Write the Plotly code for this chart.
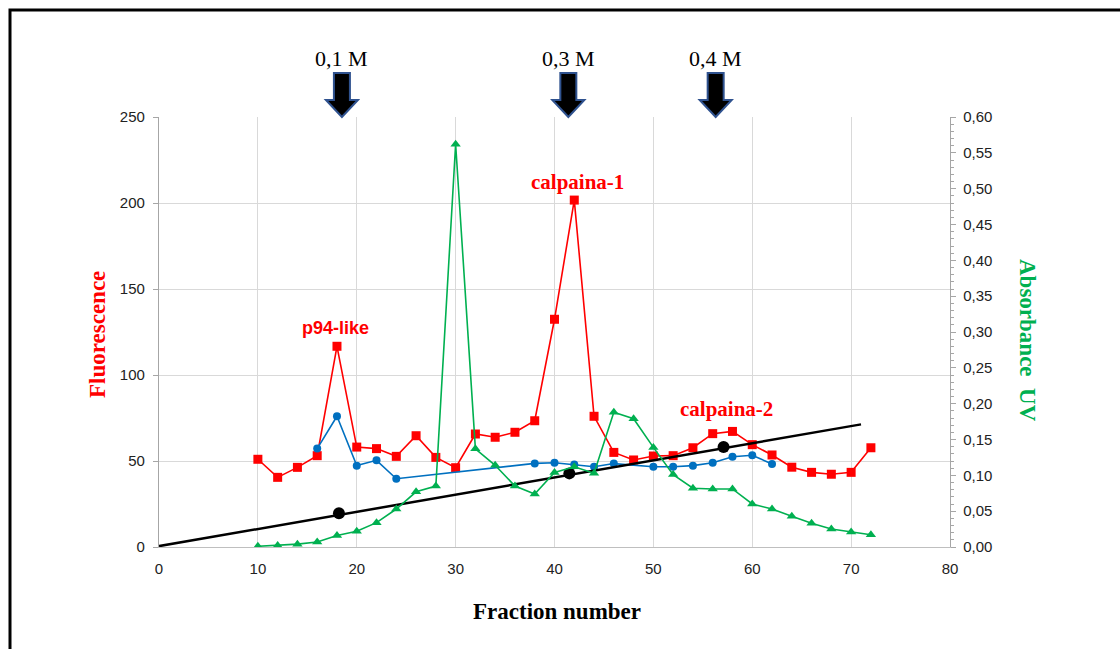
import plotly.graph_objects as go

# ---------------- data ----------------
fraction = [10, 12, 14, 16, 18, 20, 22, 24, 26, 28, 30, 32, 34, 36, 38, 40,
            42, 44, 46, 48, 50, 52, 54, 56, 58, 60, 62, 64, 66, 68, 70, 72]
fluor_red = [51.0, 40.5, 46.3, 53.1, 116.7, 58.1, 57.2, 52.7, 64.7, 52.1, 46.1, 65.7,
             63.8, 66.7, 73.4, 132.4, 201.7, 76.0, 55.0, 50.6, 52.9, 53.1, 57.7, 65.9,
             67.2, 59.5, 53.5, 46.4, 43.4, 42.3, 43.4, 57.7]
blue_x = [16, 18, 20, 22, 24, 38, 40, 42, 44, 46, 50, 52, 54, 56, 58, 60, 62]
fluor_blue = [57.2, 76.0, 47.3, 50.4, 39.7, 48.6, 49.0, 47.9, 46.7, 48.5, 46.7, 46.7,
              47.3, 49.0, 52.5, 53.3, 48.3]
absorb_uv = [0.001, 0.002, 0.004, 0.007, 0.016, 0.022, 0.034, 0.053, 0.077, 0.085, 0.562,
             0.137, 0.114, 0.085, 0.074, 0.104, 0.112, 0.103, 0.188, 0.179, 0.139, 0.101,
             0.082, 0.081, 0.081, 0.060, 0.053, 0.043, 0.033, 0.025, 0.021, 0.017]
gradient_x = [0, 71]
gradient_y = [0.5, 71.3]
salt_dot_x = [18.2, 41.5, 57.1]
salt_dot_y = [19.6, 42.8, 58.1]
salt_arrow_x = [18.5, 41.4, 56.3]
salt_labels = ["0,1 M", "0,3 M", "0,4 M"]
peak_labels = ["p94-like", "calpaina-1", "calpaina-2"]
peak_x = [17.8, 42.3, 57.4]
peak_y = [127.5, 212.0, 80.5]

RED = "#FF0000"
BLUE = "#0070C0"
GREEN = "#00B050"
SERIF = "Liberation Serif, Times New Roman, serif"
SANS = "Liberation Sans, Arial, sans-serif"
TICKFONT = dict(family=SANS, size=15, color="#222222")

fig = go.Figure()
fig.add_trace(go.Scatter(x=fraction, y=fluor_red, mode="lines+markers",
                         line=dict(color=RED, width=1.6),
                         marker=dict(symbol="square", size=9, color=RED),
                         yaxis="y", showlegend=False))
fig.add_trace(go.Scatter(x=blue_x, y=fluor_blue, mode="lines+markers",
                         line=dict(color=BLUE, width=1.6),
                         marker=dict(symbol="circle", size=8, color=BLUE),
                         yaxis="y", showlegend=False))
fig.add_trace(go.Scatter(x=fraction, y=absorb_uv, mode="lines+markers",
                         line=dict(color=GREEN, width=1.6),
                         marker=dict(symbol="triangle-up", size=9, color=GREEN),
                         yaxis="y2", showlegend=False))
fig.add_trace(go.Scatter(x=gradient_x, y=gradient_y, mode="lines",
                         line=dict(color="black", width=2.5),
                         yaxis="y", showlegend=False))
fig.add_trace(go.Scatter(x=salt_dot_x, y=salt_dot_y, mode="markers",
                         marker=dict(symbol="circle", size=12, color="black"),
                         yaxis="y", showlegend=False))

annotations = []
shapes = []
# salt labels and block arrows
head_base = (547 - 100) / 430
shaft_top = (547 - 73) / 430
for xa, lab in zip(salt_arrow_x, salt_labels):
    annotations.append(dict(x=xa, y=(547 - 58) / 430, xref="x", yref="paper",
                            xanchor="center", yanchor="middle",
                            text=lab, showarrow=False,
                            font=dict(family=SERIF, size=22, color="black")))
    path = (f"M -8,{shaft_top} L 8,{shaft_top} L 8,{head_base} L 16,{head_base} "
            f"L 0,1.0 L -16,{head_base} L -8,{head_base} Z")
    shapes.append(dict(type="path", xref="x", yref="paper", xsizemode="pixel",
                       xanchor=xa, path=path, fillcolor="black",
                       line=dict(color="#2F528F", width=2), layer="above"))

# peak labels
fonts = [dict(family=SANS, size=18, color=RED),
         dict(family=SERIF, size=21, color=RED),
         dict(family=SERIF, size=21, color=RED)]
for px_, py_, lab, f in zip(peak_x, peak_y, peak_labels, fonts):
    annotations.append(dict(x=px_, y=py_, xref="x", yref="y", text=f"<b>{lab}</b>",
                            xanchor="center", yanchor="middle",
                            showarrow=False, font=f))

# axis titles
annotations.append(dict(x=(97 - 159) / 791, y=(547 - 335) / 430, xref="paper", yref="paper",
                        xanchor="center", yanchor="middle",
                        text="<b>Fluorescence</b>", textangle=-90, showarrow=False,
                        font=dict(family=SERIF, size=23, color=RED)))
annotations.append(dict(x=(1028 - 159) / 791, y=(547 - 340) / 430, xref="paper", yref="paper",
                        xanchor="center", yanchor="middle",
                        text="<b>Absorbance  UV</b>", textangle=90, showarrow=False,
                        font=dict(family=SERIF, size=23, color=GREEN)))
annotations.append(dict(x=(557 - 159) / 791, y=(547 - 611) / 430, xref="paper", yref="paper",
                        xanchor="center", yanchor="middle",
                        text="<b>Fraction number</b>", showarrow=False,
                        font=dict(family=SERIF, size=23, color="black")))

# outer frame
shapes.append(dict(type="rect", xref="paper", yref="paper",
                   x0=(10 - 159) / 791, x1=1.5, y0=-1.0, y1=(547 - 10) / 430,
                   line=dict(color="black", width=3), fillcolor="rgba(0,0,0,0)",
                   layer="above"))

fig.update_layout(
    width=1120, height=649,
    margin=dict(l=159, r=170, t=117, b=102),
    paper_bgcolor="white", plot_bgcolor="white",
    separators=",.",
    font=dict(family=SANS, size=15, color="#222222"),
    xaxis=dict(range=[0, 80], dtick=10, tick0=0, showgrid=True, gridcolor="#D9D9D9",
               gridwidth=1.3, zeroline=False, showline=True, linecolor="#BFBFBF",
               linewidth=1.3, ticks="", ticklabelstandoff=8, tickfont=TICKFONT),
    yaxis=dict(range=[0, 250], dtick=50, showgrid=True, gridcolor="#D9D9D9", gridwidth=1.3,
               zeroline=False, showline=True, linecolor="#A6A6A6", linewidth=1.3,
               ticks="outside", ticklen=5, tickcolor="#A6A6A6",
               ticklabelstandoff=5, tickfont=TICKFONT),
    yaxis2=dict(range=[0, 0.6], dtick=0.05, tickformat=".2f", overlaying="y", side="right",
                showgrid=False, zeroline=False, showline=True, linecolor="#A6A6A6",
                linewidth=1.3, ticks="outside", ticklen=5, tickcolor="#A6A6A6",
                minor=dict(dtick=0.01, ticks="outside", ticklen=3, tickcolor="#A6A6A6"),
                ticklabelstandoff=4, tickfont=TICKFONT),
    annotations=annotations,
    shapes=shapes,
)

fig.write_html("out.html")
